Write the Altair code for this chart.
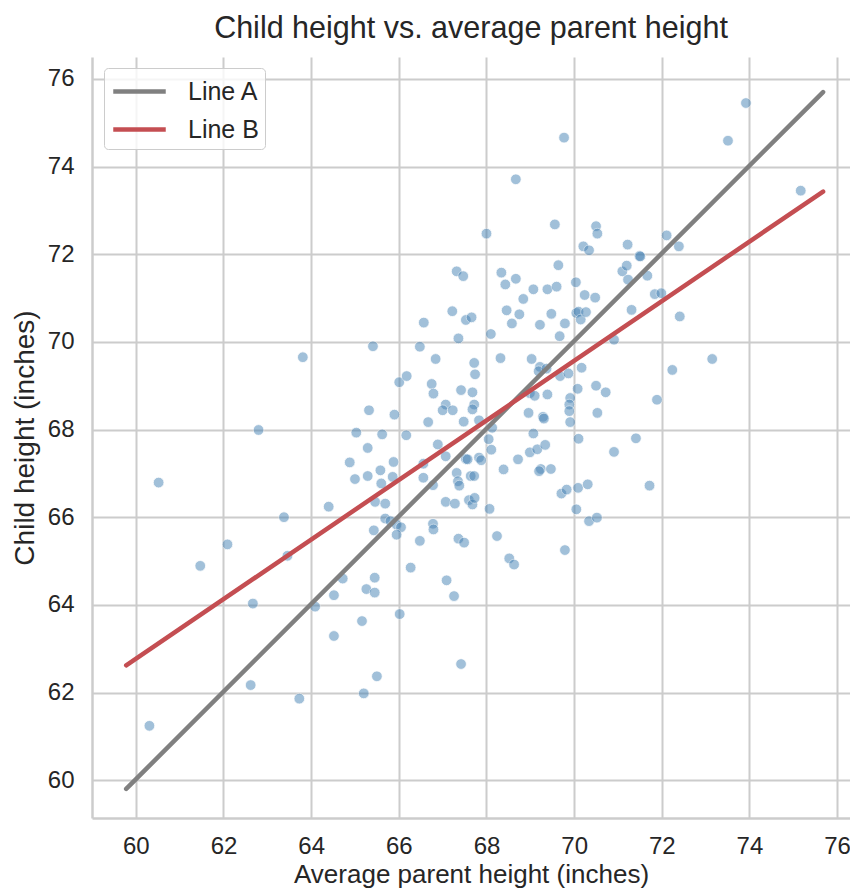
import altair as alt
import pandas as pd

# ---- data ----
parent_height = [
    60.52, 60.31, 61.47, 62.09, 62.62, 62.67, 62.80, 63.38, 63.46, 63.73,
    63.81, 64.09, 64.40, 64.52, 64.52, 64.72, 64.88, 65.00, 65.03, 65.16,
    65.20, 65.26, 65.29, 65.29, 65.32, 65.41, 65.45, 65.45, 65.46, 65.43,
    65.50, 65.58, 65.60, 65.62, 65.69, 65.69, 65.81, 65.86, 65.88, 65.90,
    65.95, 66.05, 65.95, 66.01, 66.02, 66.17, 66.18, 66.27, 66.48, 66.48,
    66.57, 66.56, 66.56, 66.67, 66.75, 66.79, 66.78, 66.78, 66.79, 66.84,
    66.89, 67.07, 67.00, 67.23, 67.07, 67.09, 67.07, 67.22, 67.26, 67.28,
    67.32, 67.47, 67.32, 67.35, 67.38, 67.36, 67.36, 67.49, 67.42, 67.42,
    67.48, 67.53, 67.66, 67.53, 67.57, 67.60, 67.68, 67.73, 67.64, 67.72,
    67.68, 67.72, 67.68, 67.72, 67.74, 67.83, 67.83, 67.88, 68.00, 68.05,
    68.13, 68.11, 68.07, 68.10, 68.24, 68.32, 68.34, 68.39, 68.43, 68.46,
    68.52, 68.63, 68.58, 68.67, 68.67, 68.72, 68.75, 68.84, 68.96, 68.99,
    68.99, 69.03, 69.07, 69.07, 69.10, 69.16, 69.22, 69.19, 69.22, 69.24,
    69.20, 69.29, 69.31, 69.34, 69.37, 69.39, 69.39, 69.47, 69.48, 69.56,
    69.60, 69.64, 69.67, 69.68, 69.71, 69.77, 69.79, 69.79, 69.83, 69.87,
    69.91, 69.89, 69.89, 69.91, 70.04, 70.05, 70.10, 70.15, 70.27, 70.05,
    70.08, 70.09, 70.10, 70.17, 70.21, 70.24, 70.31, 70.34, 70.34, 70.48,
    70.50, 70.53, 70.50, 70.52, 70.53, 70.72, 70.91, 70.91, 71.10, 71.20,
    71.22, 71.23, 71.31, 71.41, 71.49, 71.51, 71.67, 71.72, 71.84, 71.89,
    71.99, 72.11, 72.24, 72.39, 72.41, 73.15, 73.51, 73.92, 75.17,
]
child_height = [
    66.79, 61.24, 64.89, 65.38, 62.17, 64.03, 67.99, 66.00, 65.12, 61.86,
    69.65, 63.96, 66.24, 64.22, 63.29, 64.60, 67.25, 66.87, 67.93, 63.63,
    61.98, 64.36, 67.58, 66.94, 68.44, 69.90, 64.28, 64.62, 66.35, 65.70,
    62.37, 67.07, 66.77, 67.89, 66.31, 65.97, 65.91, 66.92, 67.26, 68.34,
    65.83, 65.77, 65.60, 69.08, 63.79, 67.87, 69.22, 64.85, 65.46, 69.89,
    70.44, 67.22, 66.90, 68.17, 69.04, 68.82, 66.73, 65.85, 65.72, 69.61,
    67.66, 68.57, 68.44, 68.44, 67.39, 64.56, 66.35, 70.70, 64.20, 66.31,
    71.61, 71.50, 67.01, 66.82, 66.72, 70.08, 65.51, 65.42, 68.90, 62.65,
    68.18, 70.50, 70.56, 67.33, 67.32, 66.39, 66.29, 66.44, 66.94, 66.94,
    68.85, 68.57, 68.46, 69.52, 69.26, 68.21, 67.36, 67.30, 72.47, 67.78,
    68.04, 67.54, 66.19, 70.18, 65.57, 69.63, 71.58, 67.09, 71.31, 70.72,
    65.06, 64.92, 70.42, 73.71, 71.44, 67.32, 70.63, 70.98, 68.38, 67.48,
    68.83, 69.61, 71.20, 67.91, 68.77, 67.55, 69.43, 69.33, 70.39, 67.10,
    67.05, 68.29, 68.25, 67.65, 69.39, 68.80, 71.20, 67.10, 70.64, 72.68,
    71.26, 71.75, 70.13, 69.22, 66.54, 74.66, 70.42, 65.25, 66.63, 69.28,
    68.72, 68.57, 68.42, 68.17, 71.36, 70.66, 70.69, 70.51, 70.68, 66.18,
    68.93, 66.67, 67.79, 69.41, 72.18, 71.07, 66.75, 72.09, 65.91, 71.01,
    72.64, 72.47, 69.00, 65.99, 68.38, 68.85, 70.05, 67.49, 71.61, 71.74,
    72.22, 71.42, 70.73, 67.80, 71.96, 71.95, 71.51, 66.72, 71.09, 68.68,
    71.11, 72.43, 69.36, 72.18, 70.58, 69.61, 74.59, 75.45, 73.45,
]

line_names = ["Line A", "Line B"]
line_colors = ["#808080", "#c44e52"]
line_x = [59.78, 75.68]
line_a_y = [59.80, 75.70]
line_b_y = [62.62, 73.43]

axis_ticks = [60, 62, 64, 66, 68, 70, 72, 74, 76]

# ---- tables ----
points = pd.DataFrame({"parent": parent_height, "child": child_height})
lines = pd.DataFrame({
    "line": [line_names[0]] * 2 + [line_names[1]] * 2,
    "parent": line_x + line_x,
    "child": line_a_y + line_b_y,
})

x_scale = alt.Scale(domain=[59.0, 76.294], nice=False, zero=False)
y_scale = alt.Scale(domain=[59.137, 76.5], nice=False, zero=False)

x_enc = alt.X(
    "parent:Q",
    scale=x_scale,
    axis=alt.Axis(
        values=axis_ticks,
        title="Average parent height (inches)",
        labelPadding=16,
        labelFlush=False,
        titleBaseline="alphabetic",
        titleFontSize=26,
        titleY=64.3,
    ),
)
y_enc = alt.Y(
    "child:Q",
    scale=y_scale,
    axis=alt.Axis(
        values=axis_ticks,
        title="Child height (inches)",
        labelPadding=18,
        titleBaseline="alphabetic",
        titleX=-59,
    ),
)

scatter = alt.Chart(points).mark_circle(
    size=115, color="#4682b4", opacity=0.5, stroke="white", strokeWidth=0.8
).encode(x=x_enc, y=y_enc)

line_layer = alt.Chart(lines).mark_line(strokeWidth=4.5, strokeCap="round").encode(
    x=alt.X("parent:Q", scale=x_scale),
    y=alt.Y("child:Q", scale=y_scale),
    color=alt.Color(
        "line:N",
        scale=alt.Scale(domain=line_names, range=line_colors),
        legend=alt.Legend(
            title=None,
            orient="none",
            legendX=12,
            legendY=11,
            symbolType="M-1.75,0L1.75,0",
            symbolSize=900,
            symbolStrokeWidth=4.5,
            symbolOffset=12,
            labelOffset=31,
            labelFontSize=25,
            labelColor="#262626",
            padding=6,
            rowPadding=7,
            fillColor="rgba(255,255,255,0.8)",
            strokeColor="#cccccc",
            cornerRadius=4,
        ),
    ),
)

chart = (
    alt.layer(scatter, line_layer)
    .properties(
        width=758,
        height=761,
        padding={"left": 84, "top": 49, "right": 0, "bottom": 70},
        autosize=alt.AutoSizeParams(type="none"),
        title=alt.TitleParams(
            "Child height vs. average parent height",
            fontSize=30.5,
            fontWeight="normal",
            color="#262626",
            baseline="alphabetic",
            offset=-11,
            anchor="middle",
        ),
    )
    .configure(font="Liberation Sans", background="white")
    .configure_view(strokeWidth=0)
    .configure_axis(
        grid=True,
        gridColor="#cccccc",
        gridWidth=2,
        domainColor="#cccccc",
        domainWidth=2.5,
        ticks=False,
        tickSize=0,
        labelFontSize=24,
        labelColor="#262626",
        titleFontSize=28,
        titleFontWeight="normal",
        titleColor="#262626",
    )
)

chart.save("out.html", embed_options={"renderer": "svg", "actions": False})
